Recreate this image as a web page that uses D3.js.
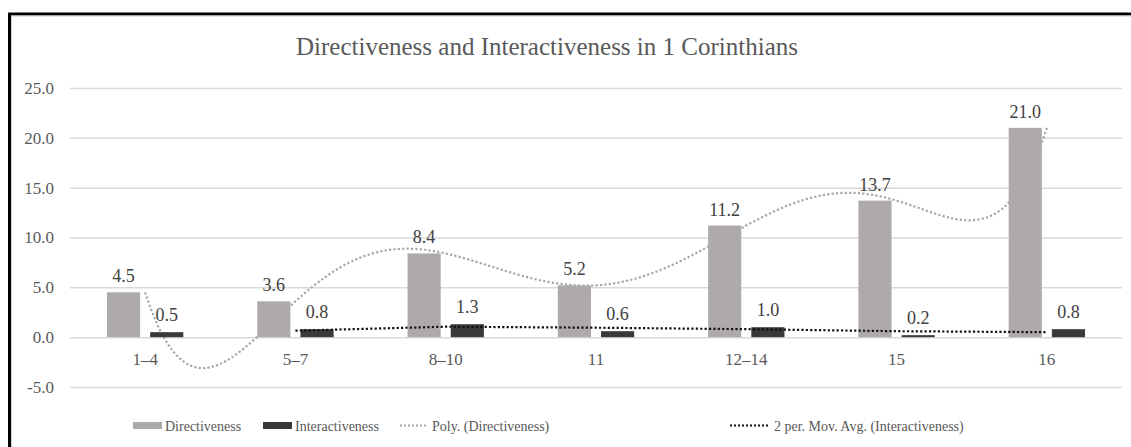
<!DOCTYPE html>
<html>
<head>
<meta charset="utf-8">
<script src="https://cdn.jsdelivr.net/npm/d3@7"></script>
<style>
  html, body { margin: 0; padding: 0; background: #fff; }
  svg { display: block; }
</style>
</head>
<body>
<svg id="chart" width="1131" height="447"></svg>
<script>
// Chapter groups of 1 Corinthians and their scores
const categories = ["1–4", "5–7", "8–10", "11", "12–14", "15", "16"];
const directiveness = [4.5, 3.6, 8.4, 5.2, 11.2, 13.7, 21.0];
const interactiveness = [0.5, 0.8, 1.3, 0.6, 1.0, 0.2, 0.8];
const yTicks = [-5, 0, 5, 10, 15, 20, 25];
const seriesNames = ["Directiveness", "Interactiveness"];
const legendLabels = ["Directiveness", "Interactiveness", "Poly. (Directiveness)", "2 per. Mov. Avg. (Interactiveness)"];

const FONT = "'Liberation Serif', 'Times New Roman', Times, 'DejaVu Serif', serif";
const colors = { dir: "#aeaaaa", inter: "#3b3838", grid: "#d9d9d9", text: "#595959", label: "#404040" };

const svg = d3.select("#chart").attr("font-family", FONT);

// Frame around the chart
svg.append("rect").attr("x", 9.5).attr("y", 14).attr("width", 1140).attr("height", 460)
  .attr("fill", "none").attr("stroke", "#000").attr("stroke-width", 3);
svg.append("rect").attr("x", 11.5).attr("y", 16).attr("width", 1140).attr("height", 460)
  .attr("fill", "none").attr("stroke", "#d0d0d0").attr("stroke-width", 1);

// Title
svg.append("text").attr("x", 547).attr("y", 55).attr("text-anchor", "middle")
  .attr("font-size", 25).attr("fill", colors.text).style("font-family", FONT)
  .text("Directiveness and Interactiveness in 1 Corinthians");

const plot = { left: 70, right: 1122, top: 88, bottom: 387 };

const x = d3.scaleBand().domain(categories).range([plot.left, plot.right]).padding(0);
const bw = x.bandwidth();
const xs = d3.scaleBand().domain(seriesNames).range([bw * 0.246, bw * 0.754]).paddingInner(0.2326).paddingOuter(0);
const y = d3.scaleLinear().domain([-5, 25]).range([plot.bottom, plot.top]);

// Y axis with gridlines
const yAxis = svg.append("g").attr("transform", `translate(${plot.left},0)`)
  .call(d3.axisLeft(y).tickValues(yTicks).tickFormat(d => d.toFixed(1)).tickSize(-(plot.right - plot.left)).tickPadding(16));
yAxis.attr("font-family", FONT);
yAxis.select(".domain").remove();
yAxis.selectAll(".tick line").attr("stroke", colors.grid).attr("stroke-width", 1.5);
yAxis.selectAll(".tick text").attr("font-size", 17).attr("fill", colors.text)
  .style("font-family", FONT);

// X axis category labels
const xAxis = svg.append("g").attr("transform", `translate(0,${y(0)})`)
  .call(d3.axisBottom(x).tickSize(0));
xAxis.attr("font-family", FONT);
xAxis.select(".domain").remove();
xAxis.selectAll(".tick text").attr("font-size", 17).attr("fill", colors.text)
  .attr("y", 28).attr("dy", 0)
  .style("font-family", FONT);

// Category index (1-based) to pixel position at category centre
const xc = t => plot.left + (t - 0.5) * bw;

// 6th-order polynomial trendline through the Directiveness points
function polyValue(t) {
  const n = directiveness.length;
  let s = 0;
  for (let i = 0; i < n; i++) {
    let term = directiveness[i];
    for (let j = 0; j < n; j++) {
      if (j !== i) term *= (t - (j + 1)) / ((i + 1) - (j + 1));
    }
    s += term;
  }
  return s;
}
const polyPts = d3.range(1, 7.0001, 0.02).map(t => [xc(t), y(polyValue(t))]);
svg.append("path").attr("d", d3.line()(polyPts))
  .attr("fill", "none").attr("stroke", "#a6a6a6").attr("stroke-width", 2.2)
  .attr("stroke-dasharray", "2.2 2.2");

// Bars
const groups = svg.append("g").selectAll("g").data(categories).join("g")
  .attr("transform", d => `translate(${x(d)},0)`);
groups.append("rect")
  .attr("x", xs("Directiveness")).attr("width", xs.bandwidth())
  .attr("y", (d, i) => y(Math.max(0, directiveness[i])))
  .attr("height", (d, i) => Math.abs(y(directiveness[i]) - y(0)))
  .attr("fill", colors.dir);
groups.append("rect")
  .attr("x", xs("Interactiveness")).attr("width", xs.bandwidth())
  .attr("y", (d, i) => y(Math.max(0, interactiveness[i])))
  .attr("height", (d, i) => Math.abs(y(interactiveness[i]) - y(0)))
  .attr("fill", colors.inter);

// 2-period moving average of Interactiveness
const maPts = interactiveness.slice(1).map((v, i) => [xc(i + 2), y((v + interactiveness[i]) / 2)]);
svg.append("path").attr("d", d3.line()(maPts))
  .attr("fill", "none").attr("stroke", "#111").attr("stroke-width", 2.2)
  .attr("stroke-dasharray", "2.2 2.2");

// Value labels
groups.append("text")
  .attr("x", xs("Directiveness") + xs.bandwidth() / 2)
  .attr("y", (d, i) => y(directiveness[i]) - 10)
  .attr("text-anchor", "middle").attr("font-size", 18).attr("fill", colors.label)
  .style("font-family", FONT)
  .text((d, i) => directiveness[i].toFixed(1));
groups.append("text")
  .attr("x", xs("Interactiveness") + xs.bandwidth() / 2)
  .attr("y", (d, i) => y(interactiveness[i]) - 11)
  .attr("text-anchor", "middle").attr("font-size", 18).attr("fill", colors.label)
  .style("font-family", FONT)
  .text((d, i) => interactiveness[i].toFixed(1));

// Legend
const legendX = [133, 263, 400, 730];
const legendTextX = [165, 295, 432, 774];
const legend = svg.append("g");
legendLabels.forEach((label, i) => {
  if (i < 2) {
    legend.append("rect").attr("x", legendX[i]).attr("y", 422).attr("width", 29).attr("height", 7)
      .attr("fill", i === 0 ? colors.dir : colors.inter);
  } else {
    legend.append("line")
      .attr("x1", legendX[i]).attr("x2", legendTextX[i] - 5)
      .attr("y1", 425.5).attr("y2", 425.5)
      .attr("stroke", i === 2 ? "#a6a6a6" : "#111").attr("stroke-width", 2)
      .attr("stroke-dasharray", "2 2");
  }
  legend.append("text").attr("x", legendTextX[i]).attr("y", 431)
    .attr("font-size", 14).attr("fill", colors.text).style("font-family", FONT).text(label);
});
</script>
</body>
</html>
